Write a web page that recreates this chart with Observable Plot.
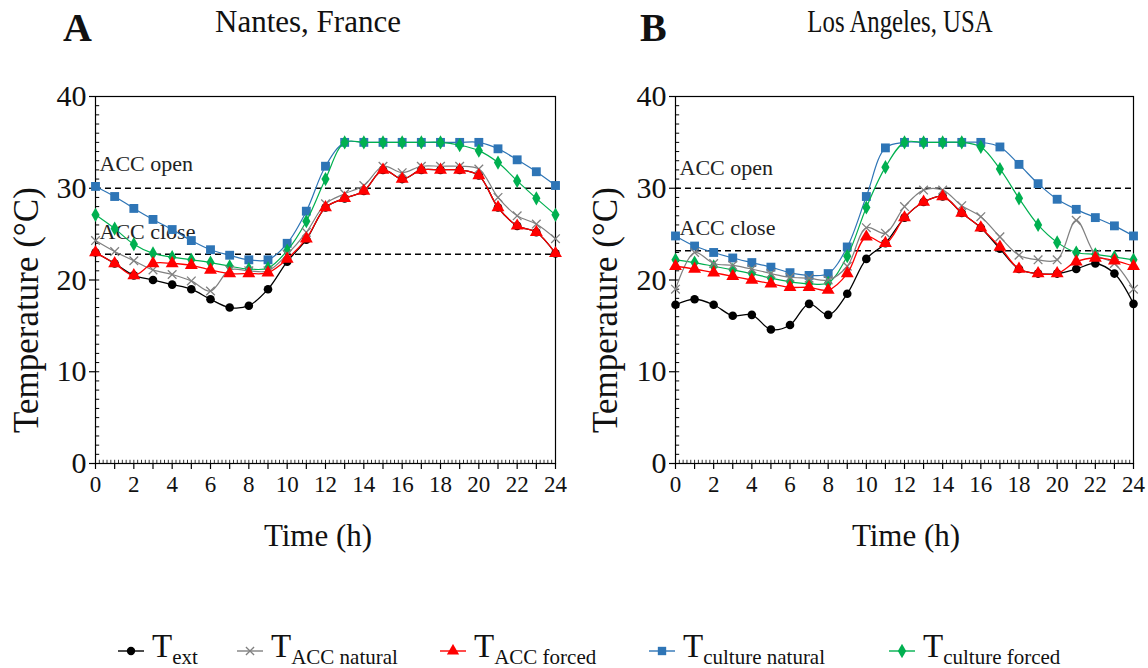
<!DOCTYPE html>
<html><head><meta charset="utf-8">
<script src="https://cdn.jsdelivr.net/npm/d3@7"></script>
<script src="https://cdn.jsdelivr.net/npm/@observablehq/plot@0.6"></script>
<style>
body{margin:0;background:#fff;font-family:"Liberation Serif",serif;}
#wrap{position:relative;width:1148px;height:668px;overflow:hidden;background:#fff;}
.abs{position:absolute;white-space:nowrap;color:#111;line-height:1;font-family:"Liberation Serif",serif;}
.panel{font-size:40px;font-weight:bold;}
.title{font-size:31px;transform:translateX(-50%);}
.title.narrow{transform:translateX(-50%) scaleX(0.8);}
.xlabel{font-size:31px;transform:translateX(-50%);}
.ylabel{font-size:35px;transform:translate(-50%,-50%) rotate(-90deg);}
.leg{position:absolute;top:630px;display:flex;align-items:flex-end;white-space:nowrap;color:#111;font-family:"Liberation Serif",serif;}
.leg svg{margin-right:8px;margin-bottom:10px;}
.leg .T{font-size:33px;line-height:1;}
.leg sub{font-size:21px;vertical-align:-7px;line-height:1;}
#pa,#pb{position:absolute;top:0;}
#pa{left:0;} #pb{left:574px;}
</style></head>
<body><div id="wrap">
<div id="pa"></div><div id="pb"></div>
</div>
<script>
// ---------- data ----------
const hours = [0,1,2,3,4,5,6,7,8,9,10,11,12,13,14,15,16,17,18,19,20,21,22,23,24];
const seriesNames = ["Text","TACC natural","TACC forced","Tculture natural","Tculture forced"];

// Panel A: Nantes, France
const nantesExt        = [23.0,21.8,20.5,20.0,19.5,19.0,17.9,17.0,17.2,19.0,22.0,24.4,27.9,28.9,29.7,32.0,31.0,32.0,32.0,32.0,31.4,27.9,25.9,25.2,22.9];
const nantesAccNatural = [24.3,23.1,22.1,21.1,20.6,19.9,18.8,21.1,21.0,21.0,22.8,25.2,28.3,29.4,30.3,32.4,31.7,32.4,32.4,32.4,32.1,29.0,27.0,26.1,24.5];
const nantesAccForced  = [23.0,21.8,20.5,21.8,21.8,21.6,21.1,20.7,20.7,20.8,22.3,24.5,27.9,28.9,29.7,32.0,31.0,32.0,32.0,32.0,31.4,27.9,25.9,25.2,22.9];
const nantesCulNatural = [30.2,29.1,27.8,26.6,25.5,24.3,23.3,22.7,22.2,22.2,24.0,27.5,32.4,35.0,35.0,35.0,35.0,35.0,35.0,35.0,35.0,34.3,33.1,31.8,30.3];
const nantesCulForced  = [27.1,25.6,23.9,22.9,22.5,22.2,21.9,21.5,21.2,21.3,23.2,26.4,31.0,35.0,35.0,35.0,35.0,35.0,35.0,34.7,34.1,32.8,30.8,28.9,27.1];
const nantesThresholds = [30.0, 22.8]; // ACC open, ACC close

// Panel B: Los Angeles, USA
const laExt        = [17.3,17.9,17.3,16.1,16.2,14.6,15.1,17.4,16.2,18.5,22.3,24.0,26.8,28.5,29.1,27.3,25.7,23.4,21.2,20.7,20.7,21.2,21.8,20.7,17.4];
const laAccNatural = [19.0,23.0,21.8,21.6,21.2,20.7,20.3,20.2,20.0,21.5,25.7,25.1,28.0,29.8,29.8,28.1,26.9,24.7,22.7,22.2,22.2,26.5,22.8,21.8,19.0];
const laAccForced  = [21.5,21.2,20.8,20.4,20.0,19.6,19.2,19.2,18.9,20.7,24.7,24.0,26.8,28.5,29.1,27.3,25.7,23.6,21.2,20.7,20.7,22.0,22.4,22.1,21.5];
const laCulNatural = [24.8,23.7,23.0,22.4,21.9,21.4,20.8,20.5,20.7,23.6,29.1,34.4,35.0,35.0,35.0,35.0,35.0,34.5,32.6,30.5,28.8,27.7,26.8,25.9,24.8];
const laCulForced  = [22.2,21.9,21.5,21.1,20.7,20.2,19.8,19.6,19.7,22.6,27.9,32.3,35.0,35.0,35.0,35.0,34.5,32.1,28.9,26.0,24.1,23.0,22.8,22.5,22.2];
const laThresholds = [30.0, 23.2];

const yTickValues = [0,10,20,30,40];
const xTickValues = [0,1,2,3,4,5,6,7,8,9,10,11,12,13,14,15,16,17,18,19,20,21,22,23,24];

// ---------- styles ----------
const styles = {
  "Text":             {color:"#000000", symbol:"circle",   r:4.3, hollow:false, width:1.3},
  "TACC natural":     {color:"#808080", symbol:"times",    r:4.0, hollow:true,  width:1.2},
  "TACC forced":      {color:"#ff0000", symbol:"triangle", r:4.8, hollow:false, width:1.3},
  "Tculture natural": {color:"#2e75b6", symbol:"square",   r:5.0, hollow:false, width:1.2},
  "Tculture forced":  {color:"#00b050", symbol:"diamond",  r:4.3, hollow:false, width:1.2}
};
const drawOrder = ["Tculture natural","Tculture forced","Text","TACC natural","TACC forced"];

function rows(arrs){
  const out=[];
  seriesNames.forEach((s,i)=>hours.forEach((h,j)=>out.push({s, h, v:arrs[i][j]})));
  return out;
}

function panel(arrs, thr, lblOpenY, lblCloseY, mLeft, mRight){
  const data = rows(arrs);
  const minorY = d3.range(0,40.01,1);
  const minorX = d3.range(0,24.01,0.2);
  const marks = [
    Plot.ruleY(minorY, {x1:0, x2:0.22, stroke:"#000", strokeWidth:1}),
    Plot.ruleX(minorX, {y1:0, y2:0.35, stroke:"#000", strokeWidth:0.8}),
    Plot.frame({stroke:"#000", strokeWidth:1.2}),
    Plot.axisY(yTickValues, {tickSize:6, tickPadding:3, fontSize:30, label:null, stroke:"#000", strokeWidth:1.2}),
    Plot.axisX(xTickValues, {tickSize:6, tickPadding:6, fontSize:23, label:null, stroke:"#000", strokeWidth:1.2,
      tickFormat: d => d % 2 === 0 ? String(d) : ""}),
    Plot.ruleY(thr, {stroke:"#000", strokeWidth:1.5, strokeDasharray:"6,4"}),
    Plot.text([{y:lblOpenY, t:"ACC open"},{y:lblCloseY, t:"ACC close"}],
      {x:0, y:"y", text:"t", textAnchor:"start", dx:4, fontSize:22, fill:"#222"})
  ];
  for (const s of drawOrder){
    const st = styles[s];
    const d = data.filter(r=>r.s===s);
    marks.push(Plot.line(d, {x:"h", y:"v", stroke:st.color, strokeWidth:st.width, curve:"catmull-rom"}));
    marks.push(Plot.dot(d, st.hollow
      ? {x:"h", y:"v", symbol:st.symbol, r:st.r, stroke:st.color, strokeWidth:1.3, fill:"none"}
      : {x:"h", y:"v", symbol:st.symbol, r:st.r, fill:st.color, stroke:"none"}));
  }
  return Plot.plot({
    width:574, height:560,
    marginTop:96, marginBottom:97, marginLeft:mLeft, marginRight:mRight,
    x:{domain:[0,24]}, y:{domain:[0,40]},
    style:{fontFamily:"Liberation Serif", background:"transparent", color:"#111"},
    marks
  });
}

document.getElementById("pa").append(panel(
  [nantesExt,nantesAccNatural,nantesAccForced,nantesCulNatural,nantesCulForced],
  nantesThresholds, 32.7, 25.2, 95, 19));
document.getElementById("pb").append(panel(
  [laExt,laAccNatural,laAccForced,laCulNatural,laCulForced],
  laThresholds, 32.2, 25.7, 101, 15));

// ---------- text ----------
const wrap = document.getElementById("wrap");
function addText(cls, txt, left, top){
  const d=document.createElement("div"); d.className="abs "+cls; d.textContent=txt;
  d.style.left=left+"px"; d.style.top=top+"px"; wrap.append(d);
}
addText("panel","A",63,8);
addText("panel","B",640,8);
addText("title","Nantes, France",308,6);
addText("title narrow","Los Angeles, USA",900,6);
addText("xlabel","Time (h)",318,520);
addText("xlabel","Time (h)",906,520);
addText("ylabel","Temperature (°C)",26,310);
addText("ylabel","Temperature (°C)",605,310);

// ---------- legend ----------
const legendItems = [
  {s:"Text", main:"T", sub:"ext", left:118},
  {s:"TACC natural", main:"T", sub:"ACC natural", left:237},
  {s:"TACC forced", main:"T", sub:"ACC forced", left:440},
  {s:"Tculture natural", main:"T", sub:"culture natural", left:649},
  {s:"Tculture forced", main:"T", sub:"culture forced", left:889}
];
const symPaths = {
  circle: d3.symbol(d3.symbolCircle, 55)(),
  times: d3.symbol(d3.symbolTimes, 45)(),
  triangle: d3.symbol(d3.symbolTriangle, 65)(),
  square: d3.symbol(d3.symbolSquare, 70)(),
  diamond: d3.symbol(d3.symbolDiamond, 60)()
};
for (const it of legendItems){
  const st = styles[it.s];
  const div = document.createElement("div"); div.className="leg"; div.style.left=it.left+"px";
  const hollow = st.hollow;
  div.innerHTML = `<svg width="26" height="14" viewBox="-13 -7 26 14">
    <line x1="-13" x2="13" y1="0" y2="0" stroke="${st.color}" stroke-width="1.4"/>
    <path d="${symPaths[st.symbol]}" fill="${hollow?'none':st.color}" stroke="${hollow?st.color:'none'}" stroke-width="1.3"/>
  </svg><span class="T">${it.main}<sub>${it.sub}</sub></span>`;
  wrap.append(div);
}
</script>
</body></html>
